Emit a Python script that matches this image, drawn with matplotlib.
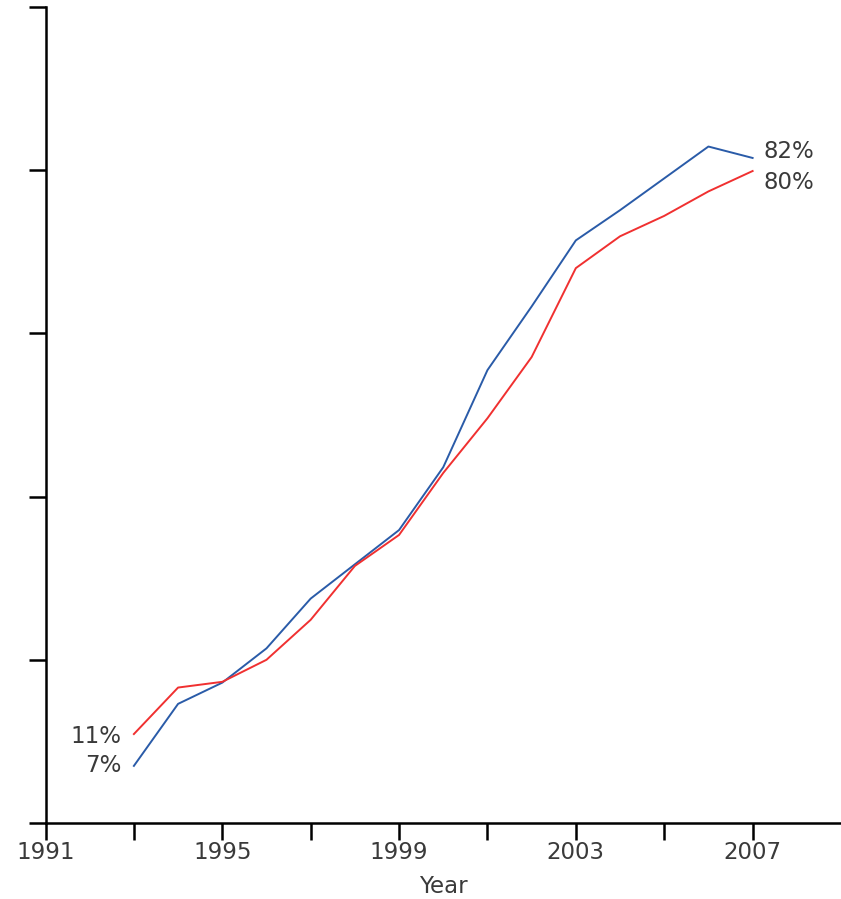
import numpy as np
import matplotlib
matplotlib.use("Agg")
import matplotlib.pyplot as plt

years = np.arange(1993, 2008)
blue = [7.0, 14.6, 17.2, 21.4, 27.5, 31.7, 35.9, 43.6, 55.5, 63.3, 71.4, 75.1, 79.0, 82.9, 81.5]
red = [10.9, 16.6, 17.3, 20.0, 24.9, 31.5, 35.3, 42.9, 49.6, 57.1, 68.0, 71.9, 74.4, 77.4, 79.9]
blue_labels = ["7%", "82%"]
red_labels = ["11%", "80%"]
major_years = [1991, 1995, 1999, 2003, 2007]

c_blue = "#2a5ba8"
c_red = "#f03030"
c_text = "#3a3a3a"

fig = plt.figure(figsize=(8.41, 8.99), dpi=100)
ax = fig.add_axes([45.5 / 841, 76 / 899, 1 - 45.5 / 841, 816 / 899])

ax.plot(years, blue, color=c_blue, lw=1.4)
ax.plot(years, red, color=c_red, lw=1.4)

fs = 16.5
# end labels
ax.annotate(blue_labels[0], (years[0], blue[0]), xytext=(-9, 0), textcoords="offset points",
            ha="right", va="center", fontsize=fs, color=c_text)
ax.annotate(red_labels[0], (years[0], red[0]), xytext=(-9, -2), textcoords="offset points",
            ha="right", va="center", fontsize=fs, color=c_text)
ax.annotate(blue_labels[1], (years[-1], blue[-1]), xytext=(8, 5), textcoords="offset points",
            ha="left", va="center", fontsize=fs, color=c_text)
ax.annotate(red_labels[1], (years[-1], red[-1]), xytext=(8, -8), textcoords="offset points",
            ha="left", va="center", fontsize=fs, color=c_text)

ax.set_xlim(1991, 2009)
ax.set_ylim(0, 100)
ax.set_xticks(np.arange(1991, 2008, 2))
ax.set_xticklabels([str(y) if y in major_years else "" for y in range(1991, 2008, 2)])
ax.set_yticks(np.arange(0, 101, 20))
ax.set_yticklabels([])
ax.tick_params(axis="both", direction="out", length=12, width=1.8, color="black",
               labelsize=fs, labelcolor=c_text)
ax.tick_params(axis="x", pad=1)

for s in ["top", "right"]:
    ax.spines[s].set_visible(False)
for s in ["left", "bottom"]:
    ax.spines[s].set_linewidth(1.8)
    ax.spines[s].set_color("black")

ax.set_xlabel("Year", fontsize=fs, color=c_text, labelpad=8)

fig.savefig("out.png", dpi=100)
